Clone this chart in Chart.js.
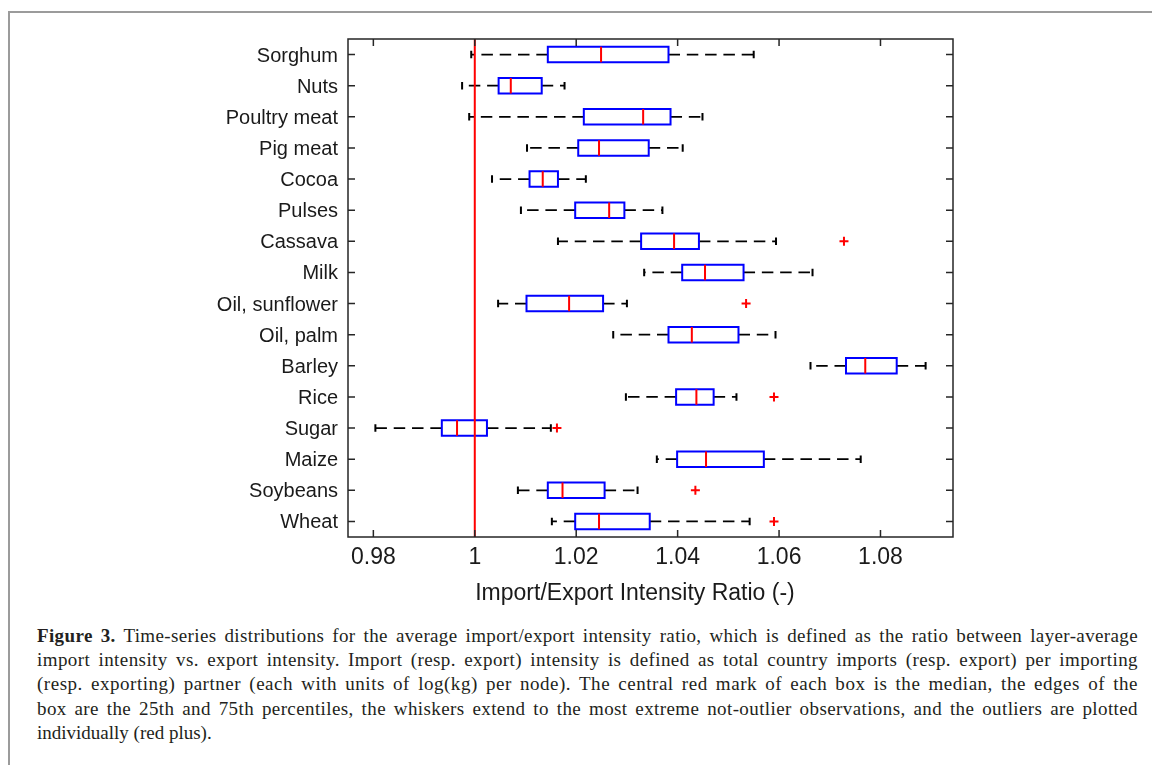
<!DOCTYPE html>
<html><head><meta charset="utf-8">
<script src="https://cdn.jsdelivr.net/npm/chart.js@4/dist/chart.umd.min.js"></script>
<style>
html,body{margin:0;padding:0;background:#fff;overflow:hidden;width:1152px;height:765px;}
#frame{position:absolute;left:8px;top:11px;width:1300px;height:900px;border:2px solid #9b9b9b;box-sizing:border-box;}
#wrap{position:absolute;left:0;top:0;width:1152px;height:610px;}
#xtitle{position:absolute;left:0;top:578px;width:1270px;text-align:center;font-family:'Liberation Sans',Arial,sans-serif;font-size:23px;line-height:28px;color:#1a1a1a;white-space:nowrap;}
#caption{position:absolute;left:37px;top:624px;width:1101px;font-family:'Liberation Serif','Times New Roman',serif;font-size:19px;line-height:24.2px;color:#231f20;}
#caption .ln{display:block;white-space:nowrap;}
</style></head><body>
<div id="frame"></div>
<div id="wrap"><canvas id="c" width="1152" height="610"></canvas></div>
<div id="xtitle"></div>
<div id="caption">
<span class="ln"><b>Figure 3.</b> Time-series distributions for the average import/export intensity ratio, which is defined as the ratio between layer-average</span>
<span class="ln">import intensity vs. export intensity. Import (resp. export) intensity is defined as total country imports (resp. export) per importing</span>
<span class="ln">(resp. exporting) partner (each with units of log(kg) per node). The central red mark of each box is the median, the edges of the</span>
<span class="ln">box are the 25th and 75th percentiles, the whiskers extend to the most extreme not-outlier observations, and the outliers are plotted</span>
<span class="ln last">individually (red plus).</span>
</div>
<script>
// ---- data ----
const categories = ['Sorghum','Nuts','Poultry meat','Pig meat','Cocoa','Pulses','Cassava','Milk','Oil, sunflower','Oil, palm','Barley','Rice','Sugar','Maize','Soybeans','Wheat'];
const whiskerLow  = [0.9993,0.9975,0.9989,1.0103,1.0034,1.0091,1.0164,1.0334,1.0046,1.0273,1.0662,1.0298,0.9804,1.0359,1.0085,1.0152];
const q1          = [1.0144,1.0047,1.0215,1.0204,1.0108,1.0198,1.0328,1.0409,1.0102,1.0382,1.0732,1.0397,0.9935,1.0399,1.0144,1.0198];
const median      = [1.0249,1.0071,1.0332,1.0245,1.0134,1.0265,1.0393,1.0454,1.0186,1.0428,1.0770,1.0437,0.9965,1.0456,1.0173,1.0245];
const q3          = [1.0382,1.0132,1.0386,1.0343,1.0164,1.0295,1.0442,1.0530,1.0253,1.0520,1.0832,1.0471,1.0024,1.0570,1.0256,1.0345];
const whiskerHigh = [1.0550,1.0177,1.0449,1.0410,1.0219,1.0370,1.0594,1.0666,1.0300,1.0593,1.0889,1.0516,1.0150,1.0761,1.0321,1.0542];
const outlierCategory = ['Cassava','Oil, sunflower','Rice','Sugar','Soybeans','Wheat'];
const outlierValue    = [1.0728,1.0535,1.0590,1.0162,1.0435,1.0590];
const referenceValue = 1;
const xTicks = [0.98,1,1.02,1.04,1.06,1.08];
const xTickLabels = ['0.98','1','1.02','1.04','1.06','1.08'];
const xTitle = 'Import/Export Intensity Ratio (-)';
document.getElementById('xtitle').textContent = xTitle;

// ---- geometry / style constants ----
const BOX_HALF = 0.25, CAP_HALF = 0.12;
const gap = () => ({x:null, y:null});
const pos = i => i + 1;

const boxPts=[], medPts=[], whiskPts=[], capPts=[];
categories.forEach((c,i)=>{
  const y = pos(i);
  boxPts.push({x:q1[i],y:y-BOX_HALF},{x:q3[i],y:y-BOX_HALF},{x:q3[i],y:y+BOX_HALF},{x:q1[i],y:y+BOX_HALF},{x:q1[i],y:y-BOX_HALF},gap());
  medPts.push({x:median[i],y:y-BOX_HALF},{x:median[i],y:y+BOX_HALF},gap());
  whiskPts.push({x:q1[i],y:y},{x:whiskerLow[i],y:y},gap(),{x:q3[i],y:y},{x:whiskerHigh[i],y:y},gap());
  capPts.push({x:whiskerLow[i],y:y-CAP_HALF},{x:whiskerLow[i],y:y+CAP_HALF},gap(),{x:whiskerHigh[i],y:y-CAP_HALF},{x:whiskerHigh[i],y:y+CAP_HALF},gap());
});
const outPts = outlierCategory.map((c,k)=>({x:outlierValue[k], y:pos(categories.indexOf(c))}));
const refPts = [{x:referenceValue,y:0.5},{x:referenceValue,y:categories.length+0.5}];

const lineDs = (data,color,width,extra) => Object.assign({data, showLine:true, spanGaps:false, borderColor:color, borderWidth:width, pointRadius:0, fill:false, borderCapStyle:'butt', borderJoinStyle:'miter'}, extra||{});

const frameTicks = {
  id:'frameTicks',
  afterDatasetsDraw(chart){
    const {ctx, chartArea:a, scales:{x,y}} = chart;
    const L = 7;
    ctx.save();
    ctx.strokeStyle = '#262626'; ctx.lineWidth = 1.5;
    ctx.beginPath();
    xTicks.forEach(v=>{ const px = x.getPixelForValue(v);
      ctx.moveTo(px,a.bottom); ctx.lineTo(px,a.bottom-L);
      ctx.moveTo(px,a.top); ctx.lineTo(px,a.top+L); });
    categories.forEach((c,i)=>{ const py = y.getPixelForValue(pos(i));
      ctx.moveTo(a.left,py); ctx.lineTo(a.left+L,py);
      ctx.moveTo(a.right,py); ctx.lineTo(a.right-L,py); });
    ctx.stroke();
    ctx.strokeRect(a.left,a.top,a.right-a.left,a.bottom-a.top);
    ctx.restore();
  }
};

Chart.defaults.font.family = "'Liberation Sans', Arial, sans-serif";
Chart.defaults.color = '#1a1a1a';

new Chart(document.getElementById('c'), {
  type:'scatter',
  data:{ datasets:[
    lineDs(refPts,'#ff0000',2),
    {data:outPts, showLine:false, pointStyle:'cross', pointRadius:4.5, borderColor:'#ff0000', borderWidth:2, backgroundColor:'#ff0000'},
    lineDs(medPts,'#ff0000',2),
    lineDs(boxPts,'#0000ff',2,{borderCapStyle:'square'}),
    lineDs(capPts,'#000000',2),
    lineDs(whiskPts,'#000000',1.8,{borderDash:[11.5,6.8]})
  ]},
  options:{
    responsive:false, animation:false, events:[], devicePixelRatio:1,
    layout:{padding:{top:39,right:199,left:0,bottom:0}},
    plugins:{legend:{display:false}, tooltip:{enabled:false}},
    scales:{
      x:{type:'linear', min:0.975, max:1.0943,
         afterBuildTicks:s=>{s.ticks = xTicks.map(v=>({value:v}));},
         afterFit:s=>{s.height = 73;},
         grid:{display:false, drawTicks:false}, border:{display:false},
         ticks:{padding:7, font:{size:23}, maxRotation:0, callback:(v,i)=>xTickLabels[i]},
         title:{display:false}},
      y:{type:'linear', min:0.5, max:categories.length+0.5, reverse:true,
         afterBuildTicks:s=>{s.ticks = categories.map((c,i)=>({value:pos(i)}));},
         afterFit:s=>{s.width = 348;},
         grid:{display:false, drawTicks:false}, border:{display:false},
         ticks:{padding:10, labelOffset:1.5, font:{size:20}, autoSkip:false, callback:(v,i)=>categories[i]}}
    }
  },
  plugins:[frameTicks]
});

// justify caption lines (spread extra width over letters and spaces)
const TARGET = 1101;
document.querySelectorAll('#caption .ln').forEach(el=>{
  if (el.classList.contains('last')) return;
  el.style.display='inline-block';
  const w = el.getBoundingClientRect().width;
  const txt = el.textContent;
  const n = (txt.match(/ /g)||[]).length;
  const chars = txt.length;
  const extra = TARGET - w;
  const ls = extra*0.5/chars;
  el.style.letterSpacing = ls + 'px';
  const w2 = el.getBoundingClientRect().width;
  el.style.wordSpacing = ((TARGET - w2)/n) + 'px';
  el.style.display='block';
});
</script>
</body></html>
